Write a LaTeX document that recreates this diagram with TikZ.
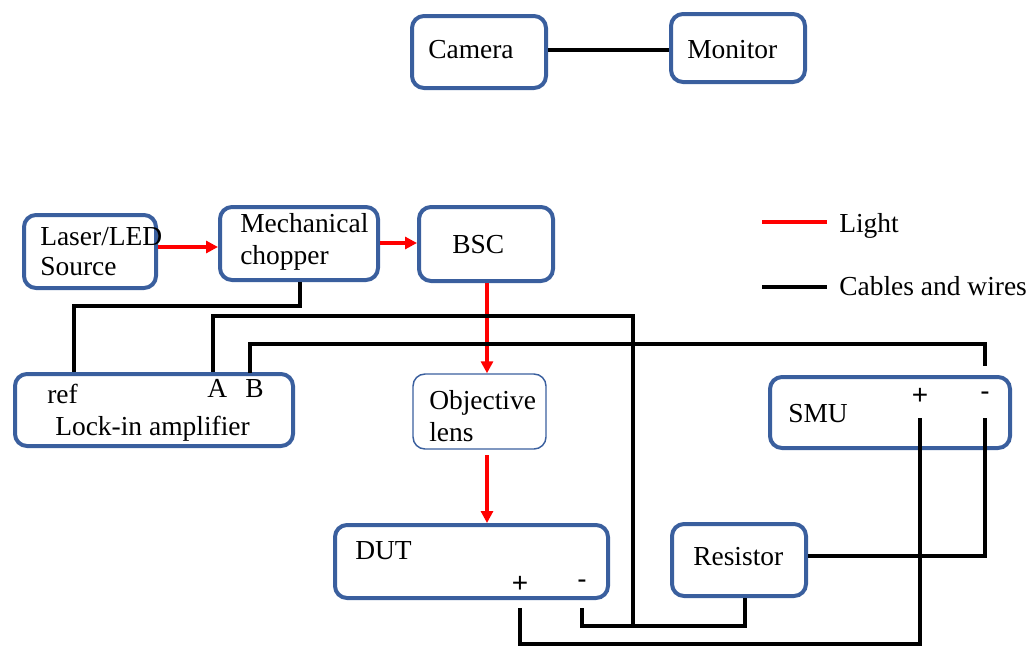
\documentclass[tikz,border=0pt]{standalone}
\usepackage{fontspec}
\setmainfont{Liberation Serif}
\newfontfamily\signfont{Liberation Sans}
\usetikzlibrary{fit,arrows.meta}
\definecolor{boxblue}{HTML}{3A5F9E}
\definecolor{beamred}{HTML}{FF0000}

\begin{document}
\begin{tikzpicture}[x=0.75pt,y=-0.75pt,
  box/.style={draw=boxblue, line width=3pt, rounded corners=9pt, inner sep=0pt},
  thinbox/.style={draw=boxblue, line width=1.1pt, rounded corners=9pt, inner sep=0pt},
  txt/.style={anchor=base west, inner sep=0pt, font=\fontsize{20.6}{24}\selectfont},
  sign/.style={inner sep=0pt, font=\signfont\fontsize{21}{24}\selectfont},
  wire/.style={line width=2.3pt, black},
  beam/.style={line width=2.3pt, beamred},
  light/.style={beam, -{Triangle[length=9pt,width=9pt]}},
]
\useasboundingbox (0,0) rectangle (1035,646);

% ---- instrument boxes
\node[box, fit={(412,16) (546,88)}] (camera) {};
\node[box, fit={(671,14) (805,82)}] (monitor) {};
\node[box, fit={(24,215) (156,288)}] (laser) {};
\node[box, fit={(220,207) (378,280)}] (chopper) {};
\node[box, fit={(419,207) (553,281)}] (bsc) {};
\node[thinbox, fit={(413,374) (546,449)}] (objective) {};
\node[box, fit={(15,374) (293,446)}] (lockin) {};
\node[box, fit={(770,377) (1010,448)}] (smu) {};
\node[box, fit={(335,525) (608,598)}] (dut) {};
\node[box, fit={(672,524) (806,596)}] (resistor) {};

% ---- box labels
\node[txt] (t-camera) at (428,58) {Camera};
\node[txt] (t-monitor) at (687,58) {Monitor};
\node[txt] (t-laser1) at (40,245) {Laser/LED};
\node[txt] (t-laser2) at (40,275) {Source};
\node[txt] (t-chop1) at (240,232) {Mechanical};
\node[txt] (t-chop2) at (240,264) {chopper};
\node[txt] (t-bsc) at (452,253) {BSC};
\node[txt] (t-obj1) at (429,409) {Objective};
\node[txt] (t-obj2) at (429,441) {lens};
\node[txt] (t-ref) at (47,403) {ref};
\node[txt] (t-a) at (207,397) {A};
\node[txt] (t-b) at (245,397) {B};
\node[txt] (t-lockin) at (55,435) {Lock-in amplifier};
\node[txt] (t-smu) at (788,422) {SMU};
\node[txt] (t-dut) at (355,559) {DUT};
\node[txt] (t-res) at (693,565) {Resistor};

% ---- terminal signs
\node[sign] (smu-p) at (920,396) {+};
\node[sign] (smu-m) at (985,396) {-};
\node[sign] (dut-p) at (520,584) {+};
\node[sign] (dut-m) at (582,584) {-};

% ---- light path
\draw[light] (laser.east |- 0,247) -- (chopper.west |- 0,247);
\draw[light] (chopper.east |- 0,243) -- (bsc.west |- 0,243);
\draw[light] (bsc.south -| 487,0) -- (objective.north -| 487,0);
\draw[light] (487,455) -- (dut.north -| 487,0);

% ---- cables
\draw[wire] (camera.east |- 0,50) -- (monitor.west |- 0,50);
% reference signal from the chopper
\draw[wire] (lockin.north -| 74,0) |- (300,306) -- (chopper.south -| 300,0);
% input A to the DUT return node
\draw[wire] (lockin.north -| 213,0) |- (633,316) -- (633,626);
% input B to the SMU minus terminal
\draw[wire] (t-b.north -| 250,0) ++(0,-6) |- (985,344) -- (985,366);
% DUT minus to resistor
\draw[wire] (dut.south -| 582,0) ++(0,8) |- (745,626) -- (resistor.south -| 745,0);
% DUT plus to SMU plus
\draw[wire] (dut.south -| 520,0) ++(0,8) |- (920,644) -- (920,418);
% resistor to SMU minus
\draw[wire] (resistor.east |- 0,556) -| (985,418);

% ---- legend
\coordinate (leg-l1) at (762,222);
\coordinate (leg-l2) at (827,222);
\coordinate (leg-c1) at (762,287);
\coordinate (leg-c2) at (827,287);
\draw[beam] (leg-l1) -- (leg-l2);
\draw[wire] (leg-c1) -- (leg-c2);
\node[txt] (t-light) at (839,232) {Light};
\node[txt] (t-cables) at (839,295) {Cables and wires};
\end{tikzpicture}
\end{document}
